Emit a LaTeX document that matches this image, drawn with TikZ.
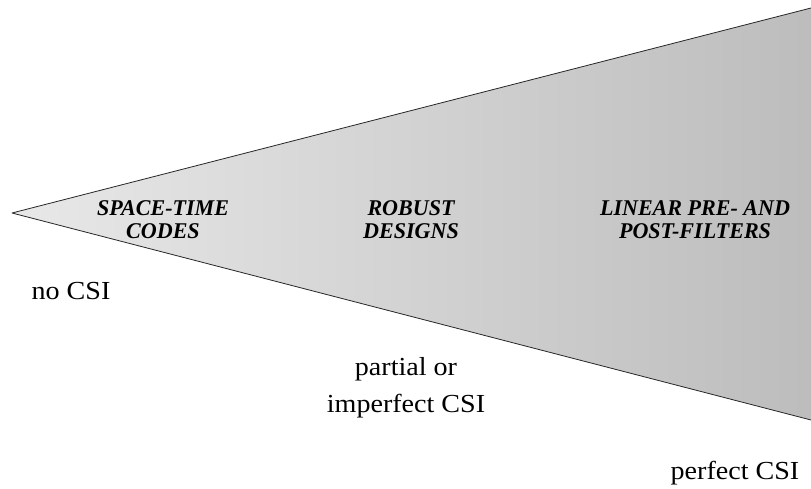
\documentclass[tikz,border=0pt]{standalone}
\usepackage{fontspec}
\setmainfont{Liberation Serif}
\begin{document}
\begin{tikzpicture}[x=1pt, y=1pt, line join=round, line cap=round,
	method/.style={font=\fontsize{22.5}{23}\selectfont\bfseries\itshape, align=center, xscale=0.98, transform shape},
	csi/.style={font=\fontsize{26}{37}\selectfont, align=center, xscale=1.08, transform shape}]
		\useasboundingbox (0,0) rectangle (811,488);
		\coordinate (tip) at (12,275);
		\coordinate (top) at (811,480);
		\coordinate (bot) at (811,68);
		\shade[left color=black!9, right color=black!26] (tip)--(top)--(bot)--cycle;
		\draw[line width=0.8pt, black!85] (top)--(tip)--(bot);
		\node[method] (stc) at (163,268) {SPACE-TIME\\CODES};
		\node[method] (rob) at (411,268) {ROBUST\\DESIGNS};
		\node[method] (lin) at (695,268) {LINEAR PRE- AND\\POST-FILTERS};
		\node[csi, anchor=base] (nocsi) at (71,189) {no CSI};
		\node[csi] (partcsi) at (406,100) {partial or\\imperfect CSI};
		\node[csi, anchor=base] (perfcsi) at (735,9) {perfect CSI};
	\end{tikzpicture}
\end{document}
